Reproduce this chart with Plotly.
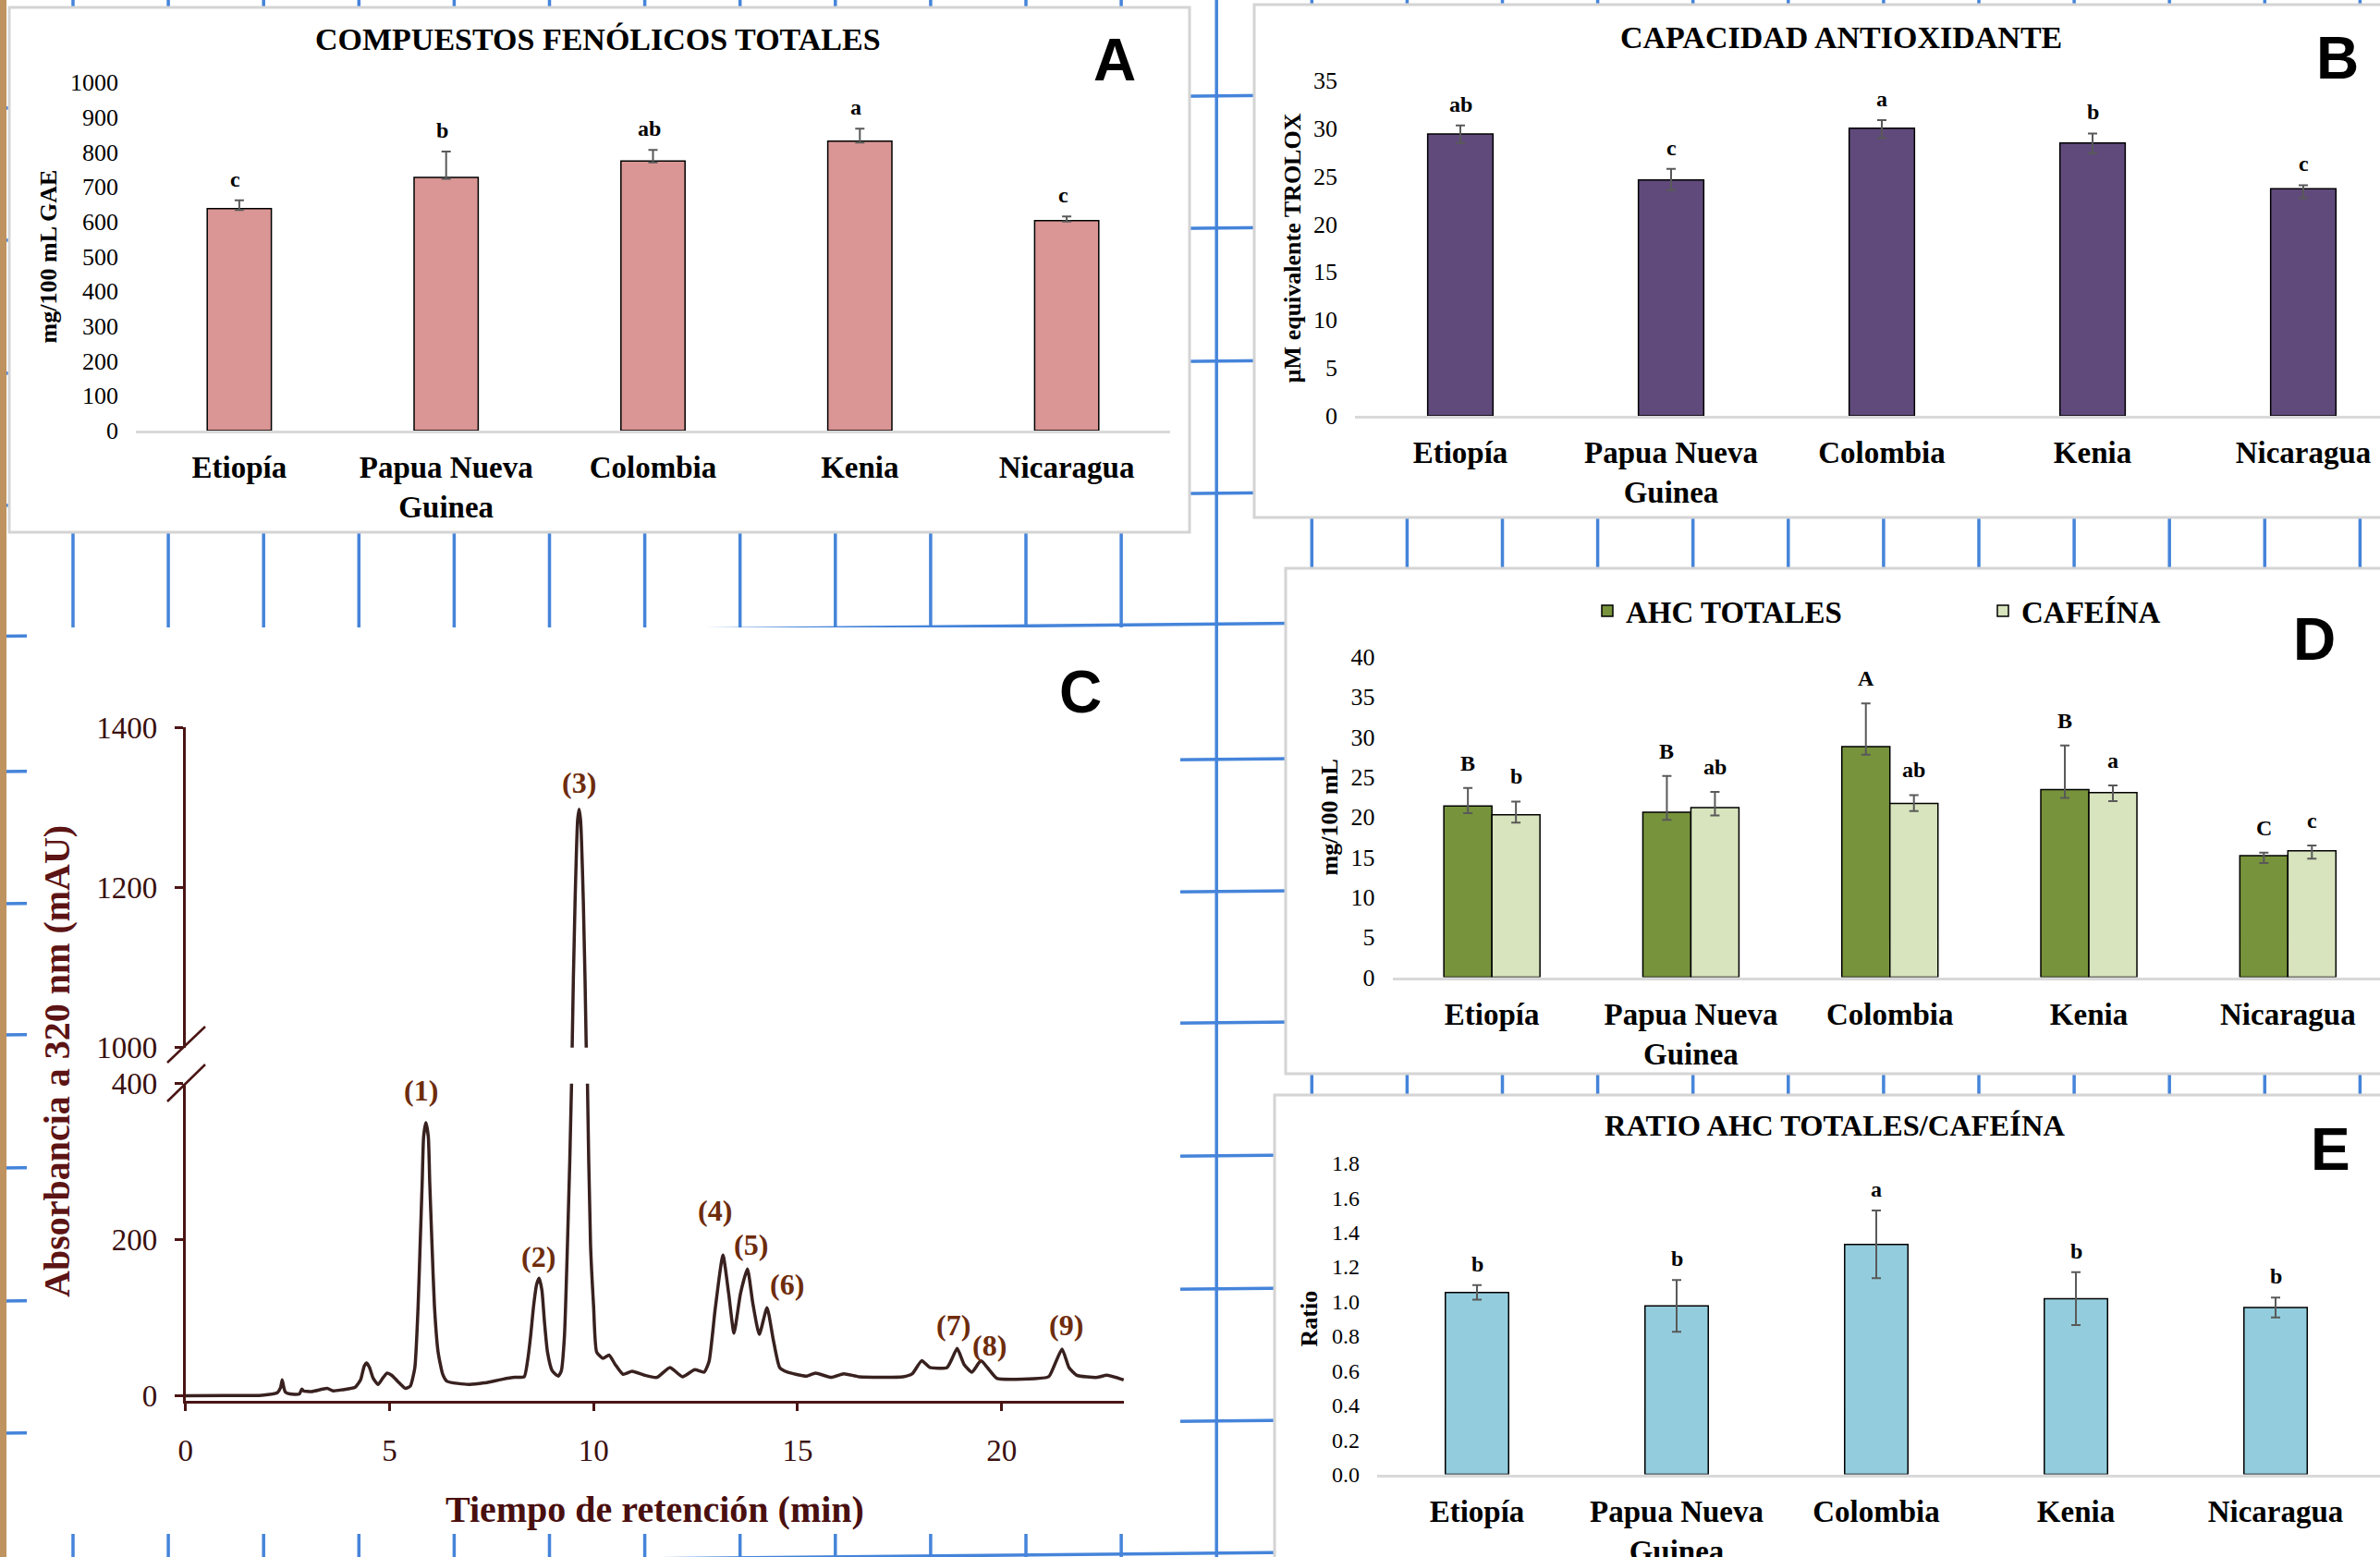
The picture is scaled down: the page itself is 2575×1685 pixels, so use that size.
import plotly.graph_objects as go

# ---------------- data ----------------
countries = ["Etiopía", "Papua Nueva<br>Guinea", "Colombia", "Kenia", "Nicaragua"]

# A: total phenolics (mg/100 mL GAE)
phenolics = [637, 727, 774, 831, 603]
phenolics_err_plus = [24, 74, 32, 36, 12]
phenolics_err_minus = [4, 4, 4, 4, 3]
phenolics_letters = ["c", "b", "ab", "a", "c"]

# B: antioxidant capacity (µM TROLOX)
antiox = [29.4, 24.6, 30.0, 28.45, 23.7]
antiox_err_plus = [0.9, 1.15, 0.85, 1.0, 0.35]
antiox_err_minus = [0.95, 1.05, 1.0, 1.05, 1.0]
antiox_letters = ["ab", "c", "a", "b", "c"]

# D: AHC totales & cafeína (mg/100 mL)
ahc = [21.4, 20.6, 28.8, 23.45, 15.2]
ahc_err_plus = [2.25, 4.55, 5.4, 5.5, 0.35]
ahc_err_minus = [0.9, 0.95, 1.0, 1.05, 0.95]
ahc_letters = ["B", "B", "A", "B", "C"]
caf = [20.3, 21.2, 21.7, 23.05, 15.8]
caf_err_plus = [1.65, 1.95, 1.05, 0.9, 0.65]
caf_err_minus = [1.0, 1.0, 0.95, 1.05, 1.0]
caf_letters = ["b", "ab", "ab", "a", "c"]

# E: ratio AHC/cafeína
ratio = [1.052, 0.974, 1.33, 1.016, 0.965]
ratio_err = [0.042, 0.15, 0.196, 0.153, 0.058]
ratio_letters = ["b", "b", "a", "b", "b"]

# C: chromatogram
time_min = [0.0, 1.0, 1.87, 2.25, 2.33, 2.37, 2.41, 2.45, 2.56, 2.79, 2.85, 2.89, 3.09, 3.47,
            3.62, 3.85, 4.15, 4.29, 4.38, 4.44, 4.51, 4.60, 4.72, 4.83, 4.94, 5.05, 5.20, 5.39,
            5.51, 5.62, 5.70, 5.75, 5.80, 5.835, 5.89, 5.95, 5.985, 6.04, 6.10, 6.19, 6.30, 6.41,
            6.94, 7.32, 7.77, 8.07, 8.30, 8.38, 8.455, 8.53, 8.605, 8.665, 8.735, 8.795, 8.87,
            8.985, 9.135, 9.21, 9.285, 9.36, 9.46, 9.475, 9.545, 9.61, 9.645, 9.68, 9.75, 9.82,
            9.85, 9.925, 10.0, 10.075, 10.23, 10.38, 10.53, 10.72, 10.945, 11.245, 11.55, 11.87,
            12.18, 12.48, 12.71, 12.83, 12.98, 13.17, 13.31, 13.44, 13.60, 13.77, 13.90, 14.06,
            14.25, 14.40, 14.56, 14.75, 15.21, 15.44, 15.82, 16.13, 16.51, 17.58, 17.81, 18.04,
            18.24, 18.66, 18.77, 18.91, 19.08, 19.27, 19.49, 19.65, 19.88, 20.35, 21.15, 21.30,
            21.48, 21.65, 21.84, 22.34, 22.57, 22.99]
absorbance = [0.0, 0.2, 0.6, 3.8, 10.4, 20.4, 10.4, 4.5, 2.2, 2.2, 8.5, 6.2, 5.3, 9.3,
              6.2, 7.7, 10.5, 20.3, 38, 42, 36, 22.3, 14.4, 22.3, 29, 26.3, 18.4, 9.3,
              12.4, 36.1, 115, 194, 273, 332, 350, 332, 273, 194, 115, 56, 28, 18.4,
              14.4, 16.4, 21.1, 23.5, 24.3, 44, 75.6, 115, 142.8, 150.7, 134.8, 95.4, 56,
              32, 25, 32, 75.6, 194, 400, 1000, 1180, 1285, 1298, 1285, 1180, 1000,
              400, 194, 115, 56, 48, 52, 40, 27.5, 31.4, 26.3, 23.5, 36.1,
              24.3, 33.4, 30.2, 44, 111.2, 180.4, 131, 80.3, 131, 162.5, 119, 78.6,
              112.9, 72.6, 36.1, 30.2, 25.1, 29, 23.5, 28.2, 24.3, 24.3, 28.2, 44.8,
              36.1, 36.1, 46, 60.6, 40, 30.2, 44.8, 36.1, 22.3, 21.1, 24.3, 40,
              59.8, 36.1, 26.2, 23.5, 26.2, 20.3]
peak_labels = ["(1)", "(2)", "(3)", "(4)", "(5)", "(6)", "(7)", "(8)", "(9)"]

# ---------------- styling ----------------
W, H = 2575, 1685
SERIF = "Liberation Serif, Times New Roman, serif"
HAND = "Liberation Sans Narrow, Liberation Sans, Arial, sans-serif"
ERR_COL = "#595959"
GRID_BLUE = "#4584da"
MAROON = "#4a1414"


def fx(x):
    return x / W


def fy(y):
    return 1 - y / H


fig = go.Figure()


def err(plus, minus):
    return dict(type="data", symmetric=False, array=plus, arrayminus=minus,
                color=ERR_COL, thickness=2, width=5)


bar_line = dict(color="black", width=1.5)

fig.add_trace(go.Bar(x=countries, y=phenolics, width=0.31, xaxis="x", yaxis="y",
                     marker=dict(color="#d99694", line=bar_line),
                     error_y=err(phenolics_err_plus, phenolics_err_minus), showlegend=False))
fig.add_trace(go.Bar(x=countries, y=antiox, width=0.31, xaxis="x2", yaxis="y2",
                     marker=dict(color="#604a7b", line=bar_line),
                     error_y=err(antiox_err_plus, antiox_err_minus), showlegend=False))
BW = 0.2415
fig.add_trace(go.Bar(x=countries, y=ahc, width=BW, offset=-BW, xaxis="x5", yaxis="y5",
                     name="AHC TOTALES", legend="legend",
                     marker=dict(color="#77933c", line=bar_line),
                     error_y=err(ahc_err_plus, ahc_err_minus)))
fig.add_trace(go.Bar(x=countries, y=caf, width=BW, offset=0, xaxis="x5", yaxis="y5",
                     name="CAFEÍNA", legend="legend2",
                     marker=dict(color="#d7e4bd", line=bar_line),
                     error_y=err(caf_err_plus, caf_err_minus)))
fig.add_trace(go.Bar(x=countries, y=ratio, width=0.317, xaxis="x6", yaxis="y6",
                     marker=dict(color="#93cddd", line=bar_line),
                     error_y=err(ratio_err, ratio_err), showlegend=False))

chrom_line = dict(color="#38211f", width=3.5, shape="spline", smoothing=0.5)
fig.add_trace(go.Scatter(x=time_min, y=absorbance, mode="lines", line=chrom_line,
                         xaxis="x3", yaxis="y3", showlegend=False))
fig.add_trace(go.Scatter(x=time_min, y=absorbance, mode="lines", line=chrom_line,
                         xaxis="x4", yaxis="y4", showlegend=False))

# ---------------- axes ----------------
cat_tickfont = dict(family=SERIF, size=33, color="black", weight="bold")
num_tickfont = dict(family=SERIF, size=26, color="black")
ytitle_font = dict(family=SERIF, size=26, color="black", weight="bold")


def cat_axis(x0, x1, anchor, rng):
    return dict(domain=[fx(x0), min(1.0, fx(x1))], anchor=anchor, type="category",
                range=rng, showline=True, linecolor="#d9d9d9", linewidth=2.5,
                ticks="", tickfont=cat_tickfont, ticklabelstandoff=9, automargin=False,
                showgrid=False, zeroline=False)


def val_axis(ybot, ytop, anchor, rng, dtick, title, standoff, fmt=None, fsize=26):
    d = dict(domain=[fy(ybot), fy(ytop)], anchor=anchor, range=rng, dtick=dtick,
             showline=False, showgrid=False, zeroline=False, ticks="", automargin=False,
             tickfont=dict(num_tickfont, size=fsize), ticklabelstandoff=18,
             title=dict(text=title, font=ytitle_font, standoff=standoff))
    if fmt:
        d["tickformat"] = fmt
    return d


c_tickfont = dict(family=SERIF, size=33, color="#3a0f0f")

fig.update_layout(
    template="none",
    width=W, height=H, margin=dict(l=0, r=0, t=0, b=0, pad=0, autoexpand=False),
    paper_bgcolor="white", plot_bgcolor="rgba(0,0,0,0)",
    barmode="overlay",
    xaxis=cat_axis(147, 1266, "y", [-0.5, 4.5]),
    yaxis=val_axis(466, 89, "x", [0, 1000], 100, "mg/100 mL GAE", 6),
    xaxis2=cat_axis(1466, 2575, "y2", [-0.5, 4.364]),
    yaxis2=val_axis(450, 86.9, "x2", [0, 35], 5, "µM equivalente TROLOX", 5),
    xaxis5=cat_axis(1506.5, 2575, "y5", [-0.5, 4.463]),
    yaxis5=val_axis(1057.6, 711, "x5", [0, 40], 5, "mg/100 mL", 6),
    xaxis6=cat_axis(1490, 2575, "y6", [-0.5, 4.523]),
    yaxis6=val_axis(1595.6, 1258.7, "x6", [0, 1.8], 0.2, "Ratio", 7, ".1f", 24),
    xaxis3=dict(domain=[fx(200.7), fx(1216.2)], anchor="y3", range=[0, 23], automargin=False,
                tickvals=[0, 5, 10, 15, 20], showline=True, linecolor=MAROON, linewidth=2.5,
                ticks="outside", ticklen=9, tickwidth=2.5, tickcolor=MAROON,
                tickfont=c_tickfont, ticklabelstandoff=14, showgrid=False, zeroline=False,
                title=dict(text="Tiempo de retención (min)", standoff=33,
                           font=dict(family=SERIF, size=40, color="#4a0f0f", weight="bold"))),
    yaxis3=dict(domain=[fy(1515.5), fy(1172.8)], anchor="x3", range=[-6, 400], automargin=False,
                tickvals=[0, 200, 400], showline=True, linecolor=MAROON, linewidth=2.5,
                ticks="outside", ticklen=9, tickwidth=2.5, tickcolor=MAROON,
                tickfont=c_tickfont, ticklabelstandoff=12, showgrid=False, zeroline=False),
    xaxis4=dict(domain=[fx(200.7), fx(1216.2)], anchor="y4", range=[0, 23], visible=False,
                automargin=False),
    yaxis4=dict(domain=[fy(1133.8), fy(787.3)], anchor="x4", range=[1000, 1400], automargin=False,
                tickvals=[1000, 1200, 1400], showline=True, linecolor=MAROON, linewidth=2.5,
                ticks="outside", ticklen=9, tickwidth=2.5, tickcolor=MAROON,
                tickfont=c_tickfont, ticklabelstandoff=12, showgrid=False, zeroline=False),
    legend=dict(x=fx(1719), y=fy(661), xanchor="left", yanchor="middle",
                bgcolor="rgba(0,0,0,0)", orientation="h",
                font=dict(family=SERIF, size=33, color="black", weight="bold")),
    legend2=dict(x=fx(2147), y=fy(661), xanchor="left", yanchor="middle",
                 bgcolor="rgba(0,0,0,0)", orientation="h",
                 font=dict(family=SERIF, size=33, color="black", weight="bold")),
)

# ---------------- background: graph paper + white panels ----------------
shapes = []
for k in range(25):
    xv = 79 + 103.1 * k
    shapes.append(dict(type="line", xref="paper", yref="paper", x0=fx(xv), x1=fx(xv),
                       y0=0, y1=1, line=dict(color=GRID_BLUE, width=3.5), layer="below"))
SLOPE = 0.01
for yv in [-39, 104, 247, 391, 534, 675.5, 822, 965, 1107, 1251, 1395, 1538, 1681]:
    shapes.append(dict(type="line", xref="paper", yref="paper", x0=0, x1=1,
                       y0=fy(yv + 1290 * SLOPE), y1=fy(yv - (W - 1290) * SLOPE),
                       line=dict(color=GRID_BLUE, width=3.5), layer="below"))
shapes.append(dict(type="rect", xref="paper", yref="paper", x0=0, x1=fx(7), y0=0, y1=1,
                   fillcolor="#bf9360", line=dict(width=0), layer="below"))
panel_boxes = [(10, 8, 1287, 576, True), (1357, 5, 2600, 560, True),
               (29, 679, 1277, 1660, False), (1391, 615, 2600, 1162, True),
               (1379, 1185, 2600, 1700, True)]
for x0, y0, x1, y1, border in panel_boxes:
    shapes.append(dict(type="rect", xref="paper", yref="paper",
                       x0=fx(x0), x1=fx(x1), y0=fy(y1), y1=fy(y0), fillcolor="white",
                       line=dict(color="#d4d4d4" if border else "white", width=3 if border else 0),
                       layer="below"))
# axis break marks (panel C)
for (xa, ya, xb, yb) in [(181, 1150, 222, 1111), (181, 1192, 222, 1152)]:
    shapes.append(dict(type="line", xref="paper", yref="paper", x0=fx(xa), y0=fy(ya),
                       x1=fx(xb), y1=fy(yb), line=dict(color=MAROON, width=2.5), layer="above"))
fig.update_layout(shapes=shapes)

# ---------------- annotations ----------------
ann = []
for txt, x, y, s in [("COMPUESTOS FENÓLICOS TOTALES", 647, 42, 34),
                     ("CAPACIDAD ANTIOXIDANTE", 1992, 40, 34),
                     ("RATIO AHC TOTALES/CAFEÍNA", 1985, 1218, 32.5)]:
    ann.append(dict(text=txt, xref="paper", yref="paper", x=fx(x), y=fy(y),
                    xanchor="center", yanchor="middle", showarrow=False,
                    font=dict(family=SERIF, size=s, color="black", weight="bold")))
for txt, x, y in [("A", 1206, 65), ("B", 2529, 63), ("C", 1169, 749),
                  ("D", 2504, 692), ("E", 2521, 1244)]:
    ann.append(dict(text=txt, xref="paper", yref="paper", x=fx(x), y=fy(y),
                    xanchor="center", yanchor="middle", showarrow=False,
                    font=dict(family=HAND, size=64, color="black", weight="bold")))

letter_font = dict(family=SERIF, size=24, color="black", weight="bold")


def add_letters(xref, yref, xs, tops, letters, yshift=8, xshift=0):
    for xv, tv, lt in zip(xs, tops, letters):
        ann.append(dict(text=lt, xref=xref, yref=yref, x=xv, y=tv, xanchor="center",
                        yanchor="bottom", yshift=yshift, xshift=xshift, showarrow=False,
                        font=letter_font))


idx = list(range(len(countries)))
add_letters("x", "y", idx, [v + e for v, e in zip(phenolics, phenolics_err_plus)],
            phenolics_letters, 8, -4)
add_letters("x2", "y2", idx, [v + e for v, e in zip(antiox, antiox_err_plus)],
            antiox_letters, 8)
add_letters("x5", "y5", [i - BW / 2 for i in idx], [v + e for v, e in zip(ahc, ahc_err_plus)],
            ahc_letters, 12)
add_letters("x5", "y5", [i + BW / 2 for i in idx], [v + e for v, e in zip(caf, caf_err_plus)],
            caf_letters, 12)
add_letters("x6", "y6", idx, [v + e for v, e in zip(ratio, ratio_err)], ratio_letters, 8)

# peak labels in chromatogram
peak_pos = [(5.78, 392, "y3"), (8.64, 178, "y3"), (9.645, 1331, "y4"), (12.98, 238, "y3"),
            (13.85, 194, "y3"), (14.73, 143, "y3"), (18.81, 91, "y3"), (19.69, 64, "y3"),
            (21.57, 91, "y3")]
for lab, (t, a, yr) in zip(peak_labels, peak_pos):
    ann.append(dict(text=lab, xref="x3" if yr == "y3" else "x4", yref=yr, x=t, y=a,
                    xanchor="center", yanchor="middle", showarrow=False,
                    font=dict(family=SERIF, size=32, color="#6e2c0c", weight="bold")))
ann.append(dict(text="Absorbancia a 320 nm (mAU)", xref="paper", yref="paper",
                x=fx(61), y=fy(1149), textangle=-90, xanchor="center", yanchor="middle",
                showarrow=False, font=dict(family=SERIF, size=40, color="#5c1414", weight="bold")))
fig.update_layout(annotations=ann)

fig.write_html("out.html", config={"displayModeBar": False},
               post_script="document.body.style.margin='0';document.body.style.overflow='hidden';")
